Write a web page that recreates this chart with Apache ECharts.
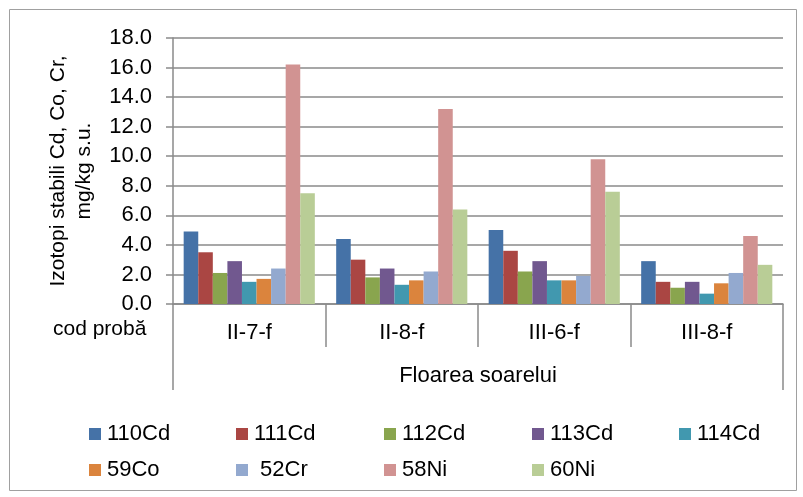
<!DOCTYPE html>
<html>
<head>
<meta charset="utf-8">
<script src="https://cdn.jsdelivr.net/npm/echarts@6/dist/echarts.min.js"></script>
<style>
html,body{margin:0;padding:0;background:#fff;}
#chart{width:803px;height:497px;}
</style>
</head>
<body>
<div id="chart"></div>
<script>
var categories = ['II-7-f', 'II-8-f', 'III-6-f', 'III-8-f'];
var groupLabel = ['Floarea soarelui'];
var yTicks = [0, 2, 4, 6, 8, 10, 12, 14, 16, 18];
var seriesNames = ['110Cd', '111Cd', '112Cd', '113Cd', '114Cd', '59Co', '52Cr', '58Ni', '60Ni'];
var legendLabels = ['110Cd', '111Cd', '112Cd', '113Cd', '114Cd', '59Co', ' 52Cr', '58Ni', '60Ni'];
var v110Cd = [4.9, 4.4, 5.0, 2.9];
var v111Cd = [3.5, 3.0, 3.6, 1.5];
var v112Cd = [2.1, 1.8, 2.2, 1.1];
var v113Cd = [2.9, 2.4, 2.9, 1.5];
var v114Cd = [1.5, 1.3, 1.6, 0.7];
var v59Co = [1.7, 1.6, 1.6, 1.4];
var v52Cr = [2.4, 2.2, 1.9, 2.1];
var v58Ni = [16.2, 13.2, 9.8, 4.6];
var v60Ni = [7.5, 6.4, 7.6, 2.65];
var allValues = [v110Cd, v111Cd, v112Cd, v113Cd, v114Cd, v59Co, v52Cr, v58Ni, v60Ni];
var colors = ['#4572A7', '#AA4643', '#89A54E', '#71588F', '#4198AF', '#DB843D', '#93A9CF', '#D19392', '#B9CD96'];

var FONT = 'Liberation Sans, Arial, sans-serif';
var GRAY = '#8a8a8a';

var series = seriesNames.map(function (n, i) {
  return {
    name: n,
    type: 'bar',
    data: allValues[i],
    barGap: '0%',
    barCategoryGap: '14%',
    itemStyle: { color: colors[i] },
    emphasis: { disabled: true }
  };
});

var legendPos = [
  [89, 423], [236, 423], [384, 423], [532, 423], [679, 423],
  [89, 459], [236, 459], [384, 459], [532, 459]
];
var legends = seriesNames.map(function (n, i) {
  return {
    data: [n],
    left: legendPos[i][0],
    top: legendPos[i][1],
    itemWidth: 12,
    itemHeight: 12,
    itemGap: 0,
    padding: 0,
    icon: 'rect',
    selectedMode: false,
    formatter: function () { return legendLabels[i]; },
    textStyle: { fontFamily: FONT, fontSize: 22, color: '#000', padding: [0, 0, 0, 1] }
  };
});

var chart = echarts.init(document.getElementById('chart'), null, { renderer: 'canvas' });
chart.setOption({
  animation: false,
  color: colors,
  grid: { left: 173, right: 20, top: 38, bottom: 193, containLabel: false },
  legend: legends,
  xAxis: [
    {
      type: 'category',
      data: categories,
      position: 'bottom',
      offset: 0,
      axisLine: { show: true, lineStyle: { color: GRAY, width: 1.5 } },
      axisTick: { show: true, interval: 0, length: 43, lineStyle: { color: GRAY, width: 1.5 } },
      axisLabel: { interval: 0, margin: 18, fontFamily: FONT, fontSize: 22, color: '#000' }
    },
    {
      type: 'category',
      data: groupLabel,
      position: 'bottom',
      offset: 0,
      axisLine: { show: false },
      axisTick: { show: true, interval: 0, length: 86, lineStyle: { color: GRAY, width: 1.5 } },
      axisLabel: { interval: 0, margin: 61, fontFamily: FONT, fontSize: 22, color: '#000' }
    }
  ],
  yAxis: {
    type: 'value',
    min: yTicks[0],
    max: yTicks[yTicks.length - 1],
    interval: yTicks[1] - yTicks[0],
    name: 'Izotopi stabili Cd, Co, Cr,\nmg/kg s.u.',
    nameLocation: 'middle',
    nameRotate: 90,
    nameGap: 76,
    nameTextStyle: { fontFamily: FONT, fontSize: 21, color: '#000', lineHeight: 26, align: 'center' },
    axisLine: { show: true, lineStyle: { color: GRAY, width: 1.5 } },
    axisTick: { show: true, length: 7, lineStyle: { color: GRAY, width: 1.5 } },
    axisLabel: {
      margin: 21,
      fontFamily: FONT, fontSize: 22, color: '#000',
      formatter: function (v) { return v.toFixed(1); }
    },
    splitLine: { show: true, lineStyle: { color: GRAY, width: 1.5 } }
  },
  graphic: [
    {
      type: 'rect',
      shape: { x: 9.5, y: 9.5, width: 787, height: 481 },
      style: { fill: null, stroke: '#a0a0a0', lineWidth: 1 },
      silent: true
    },
    {
      type: 'text',
      left: 53,
      top: 319,
      style: { text: 'cod probă', font: '21px ' + FONT, fill: '#000' },
      silent: true
    }
  ],
  series: series
});
</script>
</body>
</html>
